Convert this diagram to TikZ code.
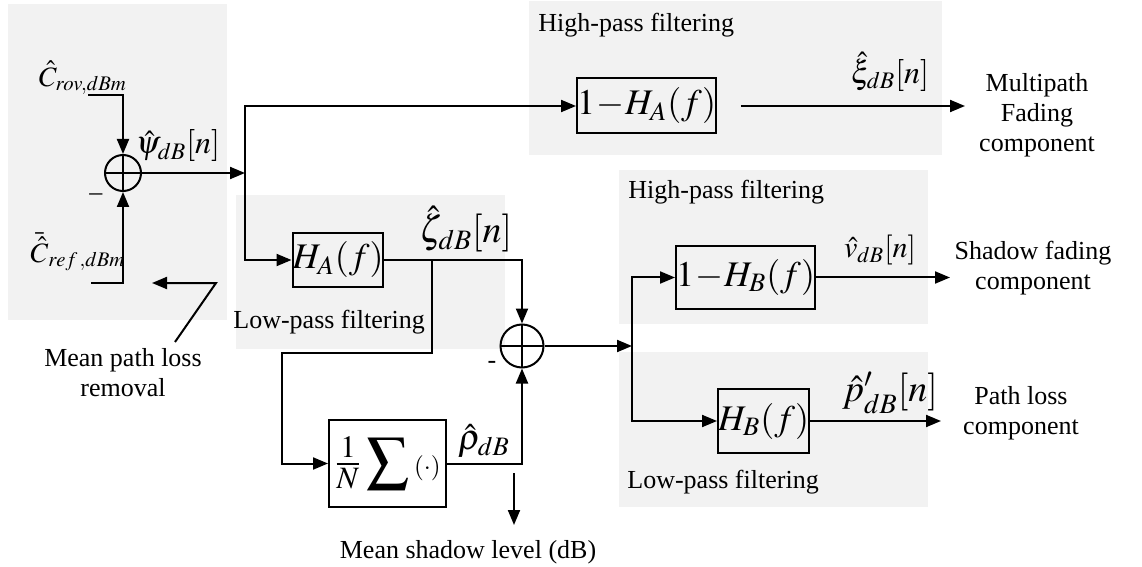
\documentclass[tikz,border=0pt]{standalone}
\usepackage{mathptmx}
\usepackage{fontspec}
\setmainfont{Liberation Serif}
\usetikzlibrary{arrows.meta,positioning}
\tikzstyle{bg}=[fill=gray!10,draw=none]
\tikzstyle{blk}=[rectangle,draw,line width=1pt,inner sep=0pt,font=\fontsize{18}{20}\selectfont]
\tikzstyle{summ}=[circle,draw,line width=1pt,inner sep=0pt,path picture={\draw[line width=1pt] (path picture bounding box.north) -- (path picture bounding box.south) (path picture bounding box.west) -- (path picture bounding box.east);}]
\tikzstyle{sig}=[inner sep=0pt,font=\fontsize{16}{18}\selectfont]
\tikzstyle{txt}=[inner sep=0pt,align=center,font=\fontsize{13}{15}\selectfont]
\tikzstyle{arr}=[-{Triangle[length=7.5pt,width=6pt]},line width=1pt]

\begin{document}
\begin{tikzpicture}[x=0.5pt,y=-0.5pt]
\useasboundingbox (0,0) rectangle (1142,567);
% shaded stages
\fill[bg] (8,4) rectangle (227,320);
\fill[bg] (529,1) rectangle (942,155);
\fill[bg] (236,195) rectangle (505,349);
\fill[bg] (619,170) rectangle (928,324);
\fill[bg] (619,352) rectangle (928,507);
% blocks
\node[summ,minimum size=18pt] (sum1) at (123,173) {};
\node[summ,minimum size=21.5pt] (sum2) at (522,346) {};
\node[blk,minimum width=57.5pt,minimum height=27.5pt] (hpA) at (646.5,106) {$1\!-\!H_A(f)$};
\node[blk,minimum width=45pt,minimum height=26.5pt] (lpA) at (338,260) {$H_A(f)$};
\node[blk,minimum width=58.5pt,minimum height=43.5pt,font=\fontsize{21}{23}\selectfont] (avg) at (387.5,463.5) {$\frac{1}{N}\displaystyle\sum{\scriptscriptstyle(\cdot)}$};
\node[blk,minimum width=67.5pt,minimum height=31.5pt] (hpB) at (745.5,277.5) {$1\!-\!H_B(f)$};
\node[blk,minimum width=43.5pt,minimum height=32pt] (lpB) at (763.5,421) {$H_B(f)$};
% signal labels
\node[sig,font=\fontsize{14}{16}\selectfont] (crov) at (83,78) {$\hat{C}_{rov,dBm}$};
\node[sig,font=\fontsize{14}{16}\selectfont] (cref) at (78,252) {$\bar{\hat{C}}_{ref\,,dBm}$};
\node[sig] (psi) at (178,146) {$\hat{\psi}_{dB}[n]$};
\node[sig] (xi) at (890,72) {$\hat{\xi}_{dB}[n]$};
\node[sig,font=\fontsize{19}{21}\selectfont] (zeta) at (466,229) {$\hat{\zeta}_{dB}[n]$};
\node[sig,font=\fontsize{18}{20}\selectfont] (rho) at (484,441) {$\hat{\rho}_{dB}$};
\node[sig,font=\fontsize{15}{17}\selectfont] (nu) at (880,250) {$\hat{v}_{dB}[n]$};
\node[sig,font=\fontsize{19}{21}\selectfont] (pl) at (890,393) {$\hat{p}'_{dB}[n]$};
\node[txt] (minus1) at (96,197) {–};
\node[txt] (minus2) at (492,365) {-};
% texts
\node[txt,anchor=west] (hpAtxt) at (538,25) {High-pass filtering};
\node[txt,anchor=west] (lpAtxt) at (233,322) {Low-pass filtering};
\node[txt,anchor=west] (hpBtxt) at (628,192) {High-pass filtering};
\node[txt,anchor=west] (lpBtxt) at (627,482) {Low-pass filtering};
\node[txt] (mpl) at (123,373) {Mean path loss\\removal};
\node[txt] (msl) at (468,552) {Mean shadow level (dB)};
\node[txt] (mfc) at (1037,115) {Multipath\\Fading\\component};
\node[txt] (sfc) at (1033,268) {Shadow fading\\component};
\node[txt] (plc) at (1021,413) {Path loss\\component};
% junctions and free ends
\coordinate (rovIn) at (88,95);
\coordinate (refIn) at (91,283);
\coordinate (split1) at (245,173);
\coordinate (xiEnd) at (965,106);
\coordinate (brA) at (432,260);
\coordinate (loopA) at (282,353);
\coordinate (split2) at (632,346);
\coordinate (nuEnd) at (950,277.5);
\coordinate (plEnd) at (941,421);
\coordinate (mplA) at (175,342);
\coordinate (mplB) at (216,283);
\coordinate (mplC) at (152,283);
\coordinate (msA) at (514,473);
\coordinate (msB) at (514,525);
% connectors
\draw[arr] (rovIn) -| (sum1);
\draw[arr] (refIn) -| (sum1);
\draw[arr] (sum1) -- (split1);
\draw[arr] (split1) |- (hpA);
\draw[arr] (split1) |- (lpA);
\draw[arr] ([xshift=12pt]hpA.east) -- (xiEnd);
\draw[arr] (lpA) -| (sum2);
\draw[arr] (brA) |- (loopA) |- (avg);
\draw[arr] (avg) -| (sum2);
\draw[arr] (sum2) -- (split2);
\draw[arr] (split2) |- (hpB);
\draw[arr] (split2) |- (lpB);
\draw[arr] (hpB) -- (nuEnd);
\draw[arr] (lpB) -- (plEnd);
\draw[arr] (mplA) -- (mplB) -- (mplC);
\draw[arr] (msA) -- (msB);
\end{tikzpicture}
\end{document}
